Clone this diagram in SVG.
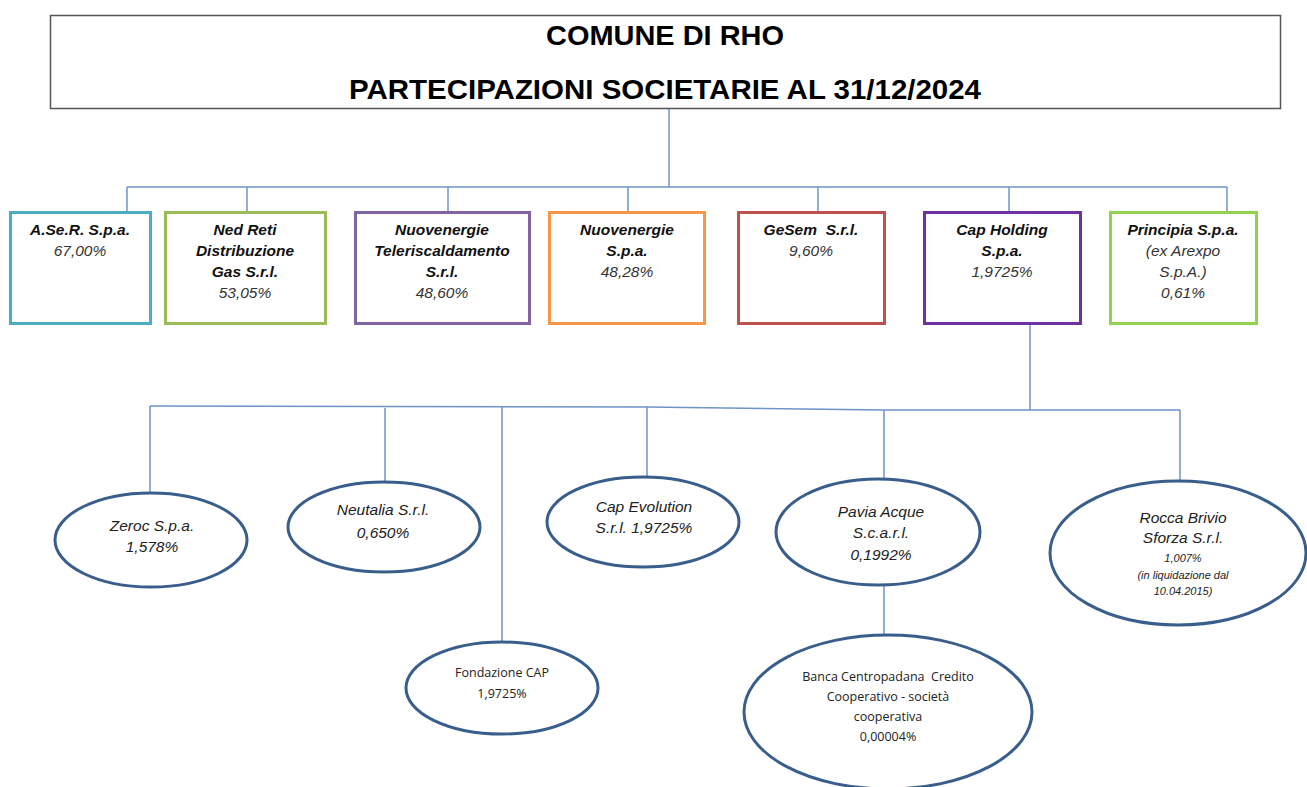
<svg xmlns="http://www.w3.org/2000/svg" width="1307" height="787" viewBox="0 0 1307 787">
<style>
.bg{fill:#ffffff}
.conn{stroke:#6F93C6;stroke-width:1.5;fill:none}
.box{fill:#ffffff;stroke-width:3}
.ell{fill:#ffffff;stroke:#3A5E8C;stroke-width:3}
.title{font-family:"Liberation Sans",Arial,sans-serif;font-weight:bold;font-size:28px;fill:#000;text-anchor:middle}
.bn{font-family:"Liberation Sans",Arial,sans-serif;font-weight:bold;font-style:italic;font-size:15.5px;fill:#111;text-anchor:middle}
.bp{font-family:"Liberation Sans",Arial,sans-serif;font-style:italic;font-size:15.5px;fill:#333;text-anchor:middle}
.en{font-family:"Liberation Sans",Arial,sans-serif;font-style:italic;font-size:15.5px;fill:#222;text-anchor:middle}
.es{font-family:"Liberation Sans",Arial,sans-serif;font-style:italic;font-size:11px;fill:#222;text-anchor:middle}
.cal{font-family:"Open Sans","Noto Sans",sans-serif;font-size:12.5px;fill:#222;text-anchor:middle}
</style>
<rect class="bg" x="0" y="0" width="1307" height="787"/>
<g id="connectors">
<line class="conn" x1="669" y1="109" x2="669" y2="187"/>
<line class="conn" x1="127" y1="187" x2="1227" y2="187"/>
<line class="conn" x1="127" y1="187" x2="127" y2="211"/>
<line class="conn" x1="247" y1="187" x2="247" y2="211"/>
<line class="conn" x1="448" y1="187" x2="448" y2="211"/>
<line class="conn" x1="628" y1="187" x2="628" y2="211"/>
<line class="conn" x1="818" y1="187" x2="818" y2="211"/>
<line class="conn" x1="1009" y1="187" x2="1009" y2="211"/>
<line class="conn" x1="1227" y1="187" x2="1227" y2="211"/>
<line class="conn" x1="1030" y1="325" x2="1030" y2="410"/>
<polyline class="conn" points="150,406 647,407 884,410 1180,410"/>
<line class="conn" x1="150" y1="406" x2="150" y2="493"/>
<line class="conn" x1="385" y1="408" x2="385" y2="481"/>
<line class="conn" x1="502" y1="406" x2="502" y2="642"/>
<line class="conn" x1="647" y1="407" x2="647" y2="477"/>
<line class="conn" x1="884" y1="410" x2="884" y2="479"/>
<line class="conn" x1="1180" y1="410" x2="1180" y2="481"/>
<line class="conn" x1="884" y1="585" x2="884" y2="635"/>
</g>
<g id="title">
<rect x="50.5" y="15.5" width="1230" height="93" fill="#fff" stroke="#555" stroke-width="1.5"/>
<text class="title" x="665" y="45" textLength="238" lengthAdjust="spacingAndGlyphs">COMUNE DI RHO</text>
<text class="title" x="665" y="99" textLength="632" lengthAdjust="spacingAndGlyphs">PARTECIPAZIONI SOCIETARIE AL 31/12/2024</text>
</g>
<g id="aser">
<rect class="box" x="10.5" y="212.5" width="140" height="111" stroke="#4BACC6"/>
<text class="bn" x="80" y="235">A.Se.R. S.p.a.</text>
<text class="bp" x="80" y="256">67,00%</text>
</g>
<g id="nedreti">
<rect class="box" x="165.5" y="212.5" width="160" height="111" stroke="#9BBB59"/>
<text class="bn" x="245" y="235">Ned Reti</text>
<text class="bn" x="245" y="256">Distribuzione</text>
<text class="bn" x="245" y="277">Gas S.r.l.</text>
<text class="bp" x="245" y="298">53,05%</text>
</g>
<g id="teleriscaldamento">
<rect class="box" x="355.5" y="212.5" width="174" height="111" stroke="#8064A2"/>
<text class="bn" x="442" y="235">Nuovenergie</text>
<text class="bn" x="442" y="256">Teleriscaldamento</text>
<text class="bn" x="442" y="277">S.r.l.</text>
<text class="bp" x="442" y="298">48,60%</text>
</g>
<g id="nuovenergie">
<rect class="box" x="549.5" y="212.5" width="155" height="111" stroke="#F79646"/>
<text class="bn" x="627" y="235">Nuovenergie</text>
<text class="bn" x="627" y="256">S.p.a.</text>
<text class="bp" x="627" y="277">48,28%</text>
</g>
<g id="gesem">
<rect class="box" x="738.5" y="212.5" width="146" height="111" stroke="#C0504D"/>
<text class="bn" x="811" y="235" xml:space="preserve">GeSem  S.r.l.</text>
<text class="bp" x="811" y="256">9,60%</text>
</g>
<g id="capholding">
<rect class="box" x="924.5" y="212.5" width="156" height="111" stroke="#7030A0"/>
<text class="bn" x="1002" y="235">Cap Holding</text>
<text class="bn" x="1002" y="256">S.p.a.</text>
<text class="bp" x="1002" y="277">1,9725%</text>
</g>
<g id="principia">
<rect class="box" x="1110.5" y="212.5" width="146" height="111" stroke="#92D050"/>
<text class="bn" x="1183" y="235">Principia S.p.a.</text>
<text class="bp" x="1183" y="256">(ex Arexpo</text>
<text class="bp" x="1183" y="277">S.p.A.)</text>
<text class="bp" x="1183" y="298">0,61%</text>
</g>
<g id="zeroc">
<ellipse class="ell" cx="151" cy="540" rx="96" ry="47"/>
<text class="en" x="152" y="531">Zeroc S.p.a.</text>
<text class="en" x="152" y="552">1,578%</text>
</g>
<g id="neutalia">
<ellipse class="ell" cx="384" cy="527" rx="96" ry="45"/>
<text class="en" x="383" y="515">Neutalia S.r.l.</text>
<text class="en" x="383" y="538">0,650%</text>
</g>
<g id="fondazionecap">
<ellipse class="ell" cx="502" cy="688" rx="96" ry="46"/>
<text class="cal" x="502" y="677">Fondazione CAP</text>
<text class="cal" x="502" y="698">1,9725%</text>
</g>
<g id="capevolution">
<ellipse class="ell" cx="643" cy="522" rx="96" ry="45"/>
<text class="en" x="644" y="512">Cap Evolution</text>
<text class="en" x="644" y="533">S.r.l. 1,9725%</text>
</g>
<g id="paviaacque">
<ellipse class="ell" cx="878" cy="532" rx="102" ry="53"/>
<text class="en" x="881" y="517">Pavia Acque</text>
<text class="en" x="881" y="538">S.c.a.r.l.</text>
<text class="en" x="881" y="560">0,1992%</text>
</g>
<g id="roccabrivio">
<ellipse class="ell" cx="1178" cy="553" rx="128" ry="72"/>
<text class="en" x="1183" y="523">Rocca Brivio</text>
<text class="en" x="1183" y="543">Sforza S.r.l.</text>
<text class="es" x="1183" y="562">1,007%</text>
<text class="es" x="1183" y="579">(in liquidazione dal</text>
<text class="es" x="1183" y="595">10.04.2015)</text>
</g>
<g id="bancacentropadana">
<ellipse class="ell" cx="888" cy="712" rx="144" ry="77"/>
<text class="cal" x="888" y="681" xml:space="preserve">Banca Centropadana  Credito</text>
<text class="cal" x="888" y="701">Cooperativo - società</text>
<text class="cal" x="888" y="721">cooperativa</text>
<text class="cal" x="888" y="741">0,00004%</text>
</g>
</svg>
